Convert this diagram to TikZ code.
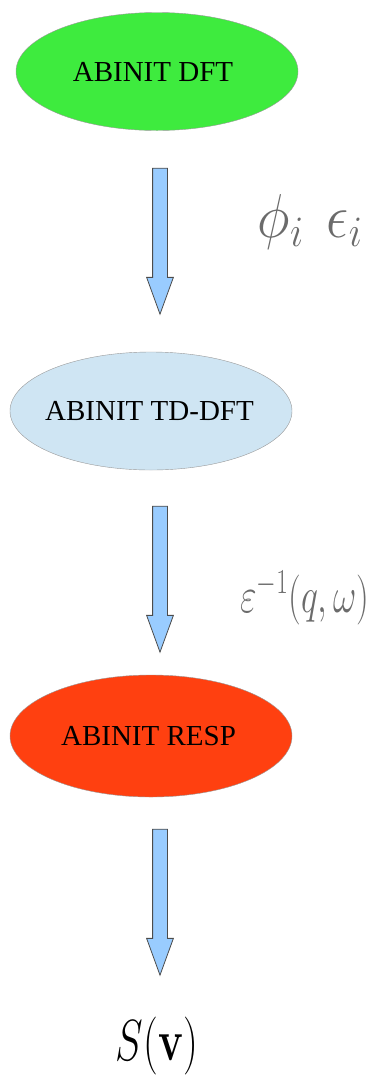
\documentclass[tikz,border=0pt]{standalone}
\usepackage{fix-cm}
\usepackage[no-math]{fontspec}
\setmainfont{Liberation Serif}
\usepackage{xcolor}
\definecolor{dftgreen}{RGB}{62,235,62}
\definecolor{tdblue}{RGB}{207,229,243}
\definecolor{respred}{RGB}{255,64,16}
\definecolor{arrowblue}{RGB}{153,204,255}
\usepackage{tikz}
\usetikzlibrary{shapes.geometric,shapes.arrows,positioning}
\tikzset{
  code/.style={ellipse,draw=gray!80,fill=#1,minimum width=282pt,minimum height=118pt,inner xsep=-20pt,inner ysep=0pt,font=\fontsize{29}{32}\selectfont},
  flow/.style={single arrow,draw=black!70,fill=arrowblue,shape border rotate=270,minimum height=146pt,inner sep=7pt,single arrow head extend=6pt,single arrow tip angle=40,line width=0.8pt},
  quantity/.style={text=black!58,font=\fontsize{50}{60}\selectfont,xscale=0.72,inner sep=0pt}
}

\begin{document}
\begin{tikzpicture}[x=1pt,y=-1pt]
  \useasboundingbox (0,0) rectangle (372,1077);
  % Three codes
  \node[code=dftgreen] (dft) at (157,71.5) {ABINIT DFT\hspace*{8pt}};
  \node[code=tdblue] (tddft) at (151,411) {ABINIT TD-DFT\hspace*{3pt}};
  \node[code=respred,minimum height=122pt] (resp) at (151,736) {ABINIT RESP\hspace*{5pt}};

  % Flow between them
  \node[flow] (flowa) at (160,231) {};
  \node[flow] (flowb) at (160,569) {};
  \node[flow] (flowc) at (160,892) {};

  % Quantities passed on
  \node[quantity,font=\fontsize{62}{70}\selectfont,xscale=1.25] (wavefn) at (310,222) {$\phi_i\ \,\epsilon_i$};
  \node[quantity] (dielec) at (305,598) {$\varepsilon^{-1}(q,\omega)$};
  \node[quantity,text=black,font=\fontsize{58}{64}\selectfont] (stopping) at (157,1046) {$S(\mathbf{v})$};
\end{tikzpicture}
\end{document}
